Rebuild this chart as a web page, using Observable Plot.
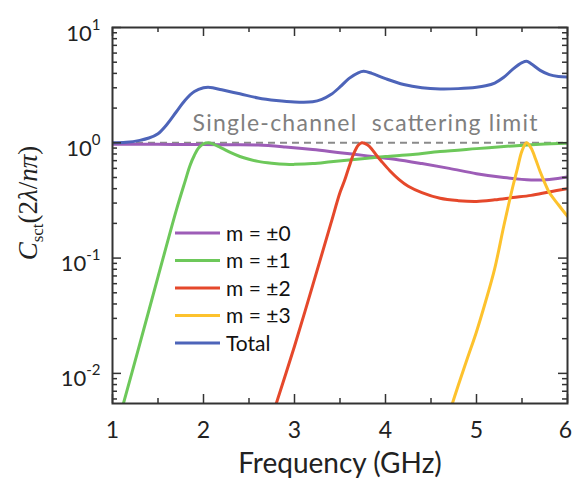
<!DOCTYPE html>
<html><head><meta charset="utf-8">
<script src="https://cdn.jsdelivr.net/npm/d3@7"></script>
<script src="https://cdn.jsdelivr.net/npm/@observablehq/plot@0.6"></script>
<style>body{margin:0;background:#fff}#chart{width:572px;height:479px}</style>
</head><body><div id="chart"></div>
<script>
const seriesNames = ["m = \u00b10", "m = \u00b11", "m = \u00b12", "m = \u00b13", "Total"];
const seriesColors = ["#9d5db7", "#6dc85a", "#e5482b", "#fdc22d", "#4d64b9"];

const m0Freq = [1.0, 1.5, 2.0, 2.3, 2.6, 2.9, 3.2, 3.5, 3.8, 4.1, 4.4, 4.7, 5.0, 5.3, 5.6, 5.8, 6.0];
const m0Val  = [0.97, 0.97, 0.965, 0.96, 0.955, 0.92, 0.875, 0.82, 0.77, 0.72, 0.66, 0.6, 0.54, 0.5, 0.476, 0.48, 0.505];

const m1Freq = [1.1, 1.3, 1.5, 1.7, 1.8, 1.85, 1.9, 1.95, 2.0, 2.05, 2.1, 2.2, 2.3, 2.4, 2.5, 2.6, 2.75, 2.9, 3.0, 3.2, 3.4, 3.6, 3.8, 4.0, 4.3, 4.6, 5.0, 5.4, 5.7, 6.0];
const m1Val  = [0.0048, 0.018, 0.0686, 0.258, 0.47, 0.63, 0.78, 0.91, 0.98, 1.0, 0.98, 0.9, 0.82, 0.76, 0.72, 0.69, 0.665, 0.65, 0.65, 0.66, 0.685, 0.71, 0.735, 0.76, 0.79, 0.84, 0.89, 0.94, 0.97, 0.99];

const m2Freq = [2.78, 3.0, 3.2, 3.4, 3.5, 3.55, 3.6, 3.65, 3.7, 3.74, 3.8, 3.85, 3.9, 3.95, 4.05, 4.15, 4.25, 4.4, 4.6, 4.8, 5.0, 5.2, 5.4, 5.6, 5.8, 6.0];
const m2Val  = [0.0049, 0.0172, 0.058, 0.2, 0.37, 0.47, 0.62, 0.8, 0.95, 1.0, 0.96, 0.88, 0.78, 0.7, 0.57, 0.48, 0.42, 0.37, 0.33, 0.315, 0.31, 0.32, 0.335, 0.35, 0.375, 0.4];

const m3Freq = [4.7, 4.8, 4.9, 5.0, 5.1, 5.2, 5.3, 5.4, 5.45, 5.5, 5.55, 5.6, 5.65, 5.7, 5.75, 5.8, 5.9, 6.0];
const m3Val  = [0.0045, 0.0079, 0.0135, 0.023, 0.042, 0.081, 0.19, 0.42, 0.6, 0.85, 1.0, 0.9, 0.72, 0.56, 0.45, 0.37, 0.29, 0.23];

const totFreq = [1.0, 1.15, 1.3, 1.4, 1.5, 1.6, 1.7, 1.8, 1.9, 2.0, 2.05, 2.1, 2.2, 2.4, 2.6, 2.8, 3.0, 3.2, 3.3, 3.4, 3.5, 3.6, 3.7, 3.76, 3.85, 4.0, 4.2, 4.4, 4.6, 4.8, 5.0, 5.1, 5.2, 5.3, 5.4, 5.5, 5.55, 5.6, 5.7, 5.8, 5.9, 6.0];
const totVal  = [1.0, 1.01, 1.05, 1.1, 1.2, 1.45, 1.85, 2.35, 2.78, 3.0, 3.03, 3.0, 2.88, 2.66, 2.45, 2.33, 2.26, 2.27, 2.38, 2.62, 3.05, 3.62, 4.05, 4.17, 4.0, 3.6, 3.2, 3.0, 2.93, 2.95, 3.03, 3.12, 3.3, 3.7, 4.35, 4.95, 5.1, 4.85, 4.25, 3.9, 3.76, 3.72];

const limitValue = [1];
const limitLabel = ["Single-channel  scattering limit"];
const limitLabelFreq = [3.775];

const xMajorTicks = [1, 2, 3, 4, 5, 6];
const xMinorTicks = [1.5, 2.5, 3.5, 4.5, 5.5];
const yMajorTicks = [0.01, 0.1, 1, 10];
const yMajorExponents = ["-2", "-1", "0", "1"];
const yMinorTicks = [0.006, 0.007, 0.008, 0.009, 0.02, 0.03, 0.04, 0.05, 0.06, 0.07, 0.08, 0.09,
  0.2, 0.3, 0.4, 0.5, 0.6, 0.7, 0.8, 0.9, 2, 3, 4, 5, 6, 7, 8, 9];
const xLabel = "Frequency (GHz)";

const seriesFreqs = [m0Freq, m1Freq, m2Freq, m3Freq, totFreq];
const seriesVals = [m0Val, m1Val, m2Val, m3Val, totVal];

const W = 572, H = 479, ML = 112, MR = 5, MT = 27, MB = 76;
const PW = W - ML - MR, PH = H - MT - MB;
const tickColor = "#333";
const font = "Lato, 'Open Sans', sans-serif";

const lineMarks = seriesNames.map((name, i) =>
  Plot.line(seriesFreqs[i].map((f, j) => ({f, v: seriesVals[i][j]})), {
    x: "f", y: "v", stroke: seriesColors[i], strokeWidth: 3, curve: "catmull-rom", clip: true
  })
);

const yTickData = yMajorTicks.map((v, i) => ({v, e: yMajorExponents[i]}));
const xTickInner = xMajorTicks.slice(0, -1);
const xTickLast = xMajorTicks.slice(-1);

const svg = Plot.plot({
  width: W, height: H,
  marginLeft: ML, marginRight: MR, marginTop: MT, marginBottom: MB,
  style: {fontFamily: font, background: "#fff", overflow: "visible"},
  x: {domain: [1, 6], axis: null},
  y: {type: "log", domain: [0.00548, 10], axis: null},
  marks: [
    Plot.ruleY(limitValue, {y: d => d, stroke: "#8a8a8a", strokeWidth: 2, strokeDasharray: "7,5"}),
    Plot.text(limitLabel, {x: limitLabelFreq, y: limitValue, text: d => d, dy: -19, fontSize: 23, fill: "#7f7f7f", textAnchor: "middle", className: "limlab"}),
    ...lineMarks,
    // ticks bottom / top
    Plot.ruleX(xMajorTicks, {x: d => d, stroke: tickColor, strokeWidth: 1.5, insetTop: PH - 9}),
    Plot.ruleX(xMinorTicks, {x: d => d, stroke: tickColor, strokeWidth: 1.5, insetTop: PH - 5}),
    Plot.ruleX(xMajorTicks, {x: d => d, stroke: tickColor, strokeWidth: 1.5, insetBottom: PH - 9}),
    Plot.ruleX(xMinorTicks, {x: d => d, stroke: tickColor, strokeWidth: 1.5, insetBottom: PH - 5}),
    // ticks left / right
    Plot.ruleY(yMajorTicks, {y: d => d, stroke: tickColor, strokeWidth: 1.5, insetRight: PW - 9}),
    Plot.ruleY(yMinorTicks, {y: d => d, stroke: tickColor, strokeWidth: 1.5, insetRight: PW - 5}),
    Plot.ruleY(yMajorTicks, {y: d => d, stroke: tickColor, strokeWidth: 1.5, insetLeft: PW - 9}),
    Plot.ruleY(yMinorTicks, {y: d => d, stroke: tickColor, strokeWidth: 1.5, insetLeft: PW - 5}),
    Plot.frame({stroke: tickColor, strokeWidth: 2}),
    // x tick labels
    Plot.text(xTickInner, {x: d => d, frameAnchor: "bottom", lineAnchor: "middle", dy: 27, text: d => String(d), fontSize: 23, fill: "#222"}),
    Plot.text(xTickLast, {x: d => d, frameAnchor: "bottom", lineAnchor: "middle", dy: 27, dx: -2, text: d => String(d), fontSize: 23, fill: "#222"}),
    // y tick labels (base; exponent added as tspan below)
    Plot.text(yTickData, {y: "v", frameAnchor: "left", lineAnchor: "middle", dx: -12, dy: 6, text: d => "10", textAnchor: "end", fontSize: 22, fill: "#222", className: "ytl"}),
    // x axis label
    Plot.text([xLabel], {frameAnchor: "bottom", lineAnchor: "middle", dy: 61, text: d => d, fontSize: 28, fill: "#222"})
  ]
});

document.getElementById("chart").appendChild(svg);
const sel = d3.select(svg);

// stretch annotation to the reference width
sel.selectAll("g.limlab text").attr("textLength", 345).attr("lengthAdjust", "spacing");

// superscript exponents on y tick labels
sel.selectAll("g.ytl text").each(function(d, i) {
  d3.select(this).append("tspan").attr("dy", -11).attr("font-size", 15).text(yMajorExponents[i]);
});

// y axis title
const yt = sel.append("text")
  .attr("transform", `translate(37,203) rotate(-90)`)
  .attr("text-anchor", "middle")
  .attr("font-family", "'Liberation Serif', 'DejaVu Serif', serif")
  .attr("font-size", 27)
  .attr("fill", "#222");
yt.append("tspan").attr("font-style", "italic").text("C");
yt.append("tspan").attr("font-size", 17).attr("dy", 6).text("sct");
yt.append("tspan").attr("dy", -6).text("(2");
yt.append("tspan").attr("font-style", "italic").text("\u03bb");
yt.append("tspan").text("/");
yt.append("tspan").attr("font-style", "italic").text("n\u03c0");
yt.append("tspan").text(")");

// legend
const lg = sel.append("g").attr("font-family", font).attr("font-size", 21).attr("text-anchor", "start");
seriesNames.forEach((name, i) => {
  const y = 233 + i * 27.5;
  lg.append("line").attr("x1", 175).attr("x2", 220).attr("y1", y).attr("y2", y)
    .attr("stroke", seriesColors[i]).attr("stroke-width", 3);
  lg.append("text").attr("x", 226).attr("y", y).attr("dy", "0.36em").attr("fill", "#111").text(name);
});
</script>
</body></html>
